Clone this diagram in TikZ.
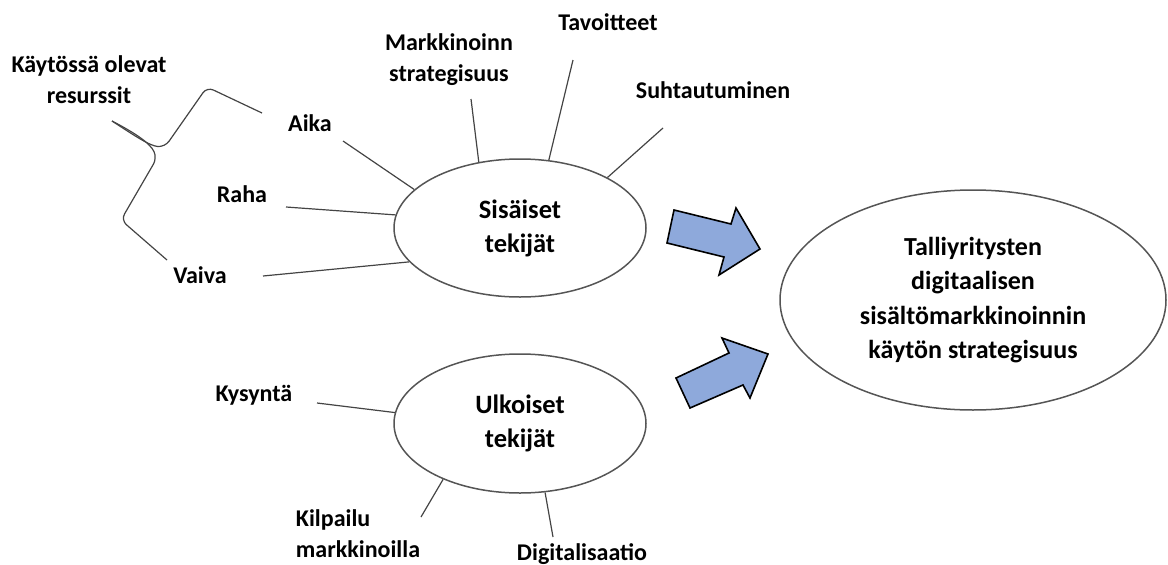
\documentclass[tikz,border=0pt]{standalone}
\usepackage{fontspec}
\setmainfont{Carlito}
\usetikzlibrary{shapes.geometric}
\definecolor{linegray}{HTML}{444444}
\definecolor{ellgray}{HTML}{555555}
\definecolor{arrowblue}{HTML}{8EA9DB}
\tikzset{
  lbl/.style={inner sep=0pt, font=\fontsize{24}{31}\selectfont\bfseries, align=center, anchor=base},
  ell/.style={ellipse, draw=ellgray, line width=1.5pt, inner sep=0pt, align=center,
              font=\fontsize{26.5}{34}\selectfont\bfseries},
  spoke/.style={draw=linegray, line width=1.2pt},
  blockarrow/.style={fill=arrowblue, draw=black, line width=1.6pt, line join=miter}
}
\begin{document}
\begin{tikzpicture}[x=1pt,y=-1pt]
\useasboundingbox (0,0) rectangle (1168,565);

% ellipses
\node[ell, minimum width=252pt, minimum height=138pt] (sis) at (520,228) {Sisäiset\\tekijät};
\node[ell, minimum width=252pt, minimum height=139pt] (ulk) at (520,423.5) {Ulkoiset\\tekijät};
\node[ell, minimum width=386pt, minimum height=220pt, font=\fontsize{26}{34.5}\selectfont\bfseries] (goal) at (973,300)
  {Talliyritysten\\digitaalisen\\sisältömarkkinoinnin\\käytön strategisuus};

% labels (base = baseline of last line)
\node[lbl] (res) at (89,103) {Käytössä olevat\\resurssit};
\node[lbl] (aika) at (310,131) {Aika};
\node[lbl] (raha) at (242,202) {Raha};
\node[lbl] (vaiva) at (200,283) {Vaiva};
\node[lbl] (mark) at (449,81) {Markkinoinn\\strategisuus};
\node[lbl] (tav) at (608,30) {Tavoitteet};
\node[lbl] (suht) at (713,98) {Suhtautuminen};
\node[lbl] (kys) at (254,401) {Kysyntä};
\node[lbl, align=left] (kilp) at (358,557) {Kilpailu\\markkinoilla};
\node[lbl] (digi) at (582,560) {Digitalisaatio};

% spoke start points
\coordinate (aikaP) at (343,141);
\coordinate (rahaP) at (286,207);
\coordinate (vaivaP) at (263,276);
\coordinate (markP) at (471,99);
\coordinate (tavP) at (573,60);
\coordinate (suhtP) at (663,128);
\coordinate (kysP) at (317,403);
\coordinate (kilpP) at (421,517);
\coordinate (digiP) at (553,537);

\draw[spoke] (aikaP) -- (sis.160.4);
\draw[spoke] (rahaP) -- (sis.174.5);
\draw[spoke] (vaivaP) -- (sis.197);
\draw[spoke] (markP) -- (sis.122.9);
\draw[spoke] (tavP) -- (sis.67.3);
\draw[spoke] (suhtP) -- (sis.30.4);
\draw[spoke] (kysP) -- (ulk.175.7);
\draw[spoke] (kilpP) -- (ulk.216.2);
\draw[spoke] (digiP) -- (ulk.290);

% brace
\coordinate (braceTip) at (112,121);
\coordinate (braceTop) at (262,113);
\coordinate (braceBot) at (167,260);
\draw[spoke, rounded corners=7pt] (braceTip) .. controls (135,136) and (150,146) .. (165,147)
  -- (207,87) -- (braceTop);
\draw[spoke, rounded corners=7pt] (braceTip) .. controls (135,133) and (150,143) .. (157,158)
  -- (121,220) -- (braceBot);

% block arrows
\draw[blockarrow] (674,210) -- (731,224) -- (736,208) -- (760,249) -- (719,275) -- (724,257) -- (667,243) -- cycle;
\draw[blockarrow] (676,378) -- (729,353) -- (722,338) -- (768,354) -- (750,398) -- (743,385) -- (690,408) -- cycle;
\end{tikzpicture}
\end{document}
